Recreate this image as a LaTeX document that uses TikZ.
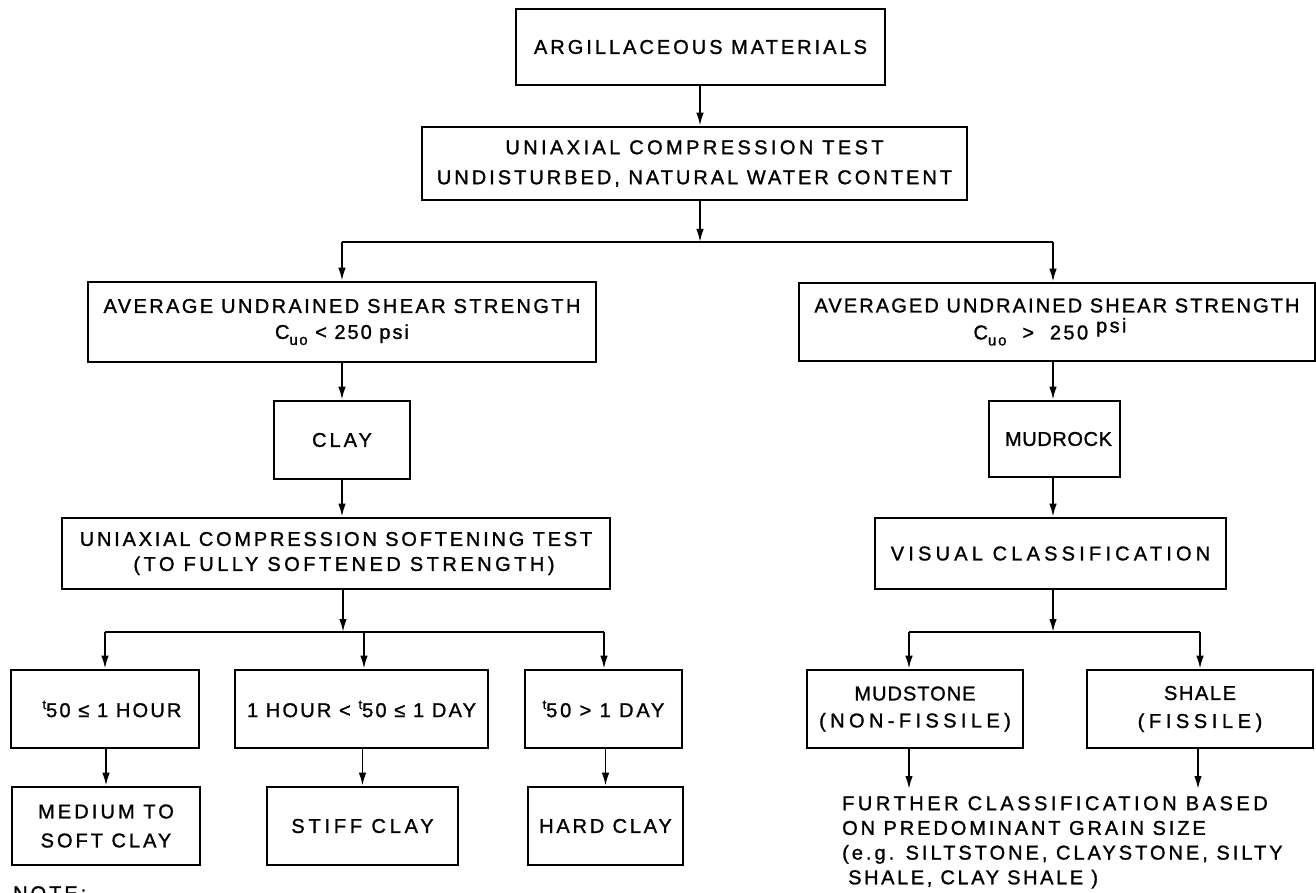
\documentclass[tikz,border=0pt]{standalone}
\usepackage{fontspec}
\setmainfont[FakeBold=1.2]{Liberation Sans}
\usetikzlibrary{arrows.meta}
\newcommand\lsp[1]{\addfontfeatures{LetterSpace=#1}}
\newcommand\subuo{\raisebox{-0.3em}{\fontsize{15}{15}\selectfont uo}}
\newcommand\supt{\raisebox{0.4em}{\fontsize{13}{13}\selectfont t}}
\begin{document}
\begin{tikzpicture}[x=1pt,y=-1pt,
  box/.style={draw, line width=2.6pt, inner sep=0pt, align=center, font=\fontsize{20}{27}\selectfont},
  conn/.style={line width=1.8pt, -{Latex[length=13pt,width=7.5pt]}},
  bus/.style={line width=1.8pt},
  txt/.style={inner sep=0pt, align=left, font=\fontsize{20}{24.7}\selectfont}]
\fill[white] (0,0) rectangle (1316,893);
\useasboundingbox (0,0) rectangle (1316,893);

% boxes
\node[box, minimum width=369pt, minimum height=76pt] (arg) at (700.5,47) {\lsp{15}ARGILLACEOUS MATERIALS};
\node[box, minimum width=545pt, minimum height=73pt, font=\fontsize{20}{30}\selectfont] (uct) at (694.5,163.5)
  {{\lsp{17}UNIAXIAL COMPRESSION TEST}\\{\lsp{15}UNDISTURBED, NATURAL WATER CONTENT}};
\node[box, minimum width=508pt, minimum height=80pt, font=\fontsize{20}{26}\selectfont] (avl) at (342,322)
  {{\lsp{12}AVERAGE UNDRAINED SHEAR STRENGTH}\\{\lsp{10}C\subuo{} < 250 psi}};
\node[box, minimum width=516pt, minimum height=78pt, font=\fontsize{20}{27}\selectfont] (avr) at (1057,322)
  {{\lsp{10.5}AVERAGED UNDRAINED SHEAR STRENGTH}\\{\lsp{12}C\subuo{} \ > \ 250 \raisebox{0.35em}{psi}\hspace*{14pt}}};
\node[box, minimum width=136pt, minimum height=78pt] (clay) at (342,440) {\lsp{15}CLAY};
\node[box, minimum width=131pt, minimum height=76pt] (mud) at (1054.5,439) {\lsp{3}\hspace*{8pt}MUDROCK};
\node[box, minimum width=548pt, minimum height=71pt, font=\fontsize{20}{25}\selectfont] (soft) at (336,553.5)
  {{\lsp{14}UNIAXIAL COMPRESSION SOFTENING TEST}\\{\lsp{17.5}\hspace*{16pt}(TO FULLY SOFTENED STRENGTH)}};
\node[box, minimum width=351pt, minimum height=71pt] (vis) at (1050.5,553.5) {\lsp{21}VISUAL CLASSIFICATION};
\node[box, minimum width=188pt, minimum height=78pt] (b1) at (105,709) {\lsp{11}\hspace*{14pt}\supt 50 ≤ 1 HOUR};
\node[box, minimum width=253pt, minimum height=78pt] (b2) at (361.5,709) {\lsp{11}1 HOUR < \supt 50 ≤ 1 DAY};
\node[box, minimum width=157pt, minimum height=78pt] (b3) at (603.5,709) {\lsp{14}\supt 50 > 1 DAY};
\node[box, minimum width=188pt, minimum height=78pt, font=\fontsize{20}{29}\selectfont] (c1) at (106,826)
  {{\lsp{15.5}MEDIUM TO}\\{\lsp{15}SOFT CLAY}};
\node[box, minimum width=191pt, minimum height=78pt] (c2) at (362.5,826) {\lsp{19}STIFF CLAY};
\node[box, minimum width=155pt, minimum height=78pt] (c3) at (605.5,826) {\lsp{14}HARD CLAY};
\node[box, minimum width=216pt, minimum height=78pt, font=\fontsize{20}{27}\selectfont] (mds) at (915,709)
  {{\lsp{5}MUDSTONE}\\{\lsp{22}(NON-FISSILE)}};
\node[box, minimum width=226pt, minimum height=78pt, font=\fontsize{20}{28}\selectfont] (shl) at (1200,709)
  {{\lsp{8}SHALE}\\{\lsp{23}(FISSILE)}};
\node[txt, anchor=north west] (fur) at (842,796)
  {{\lsp{17.7}FURTHER CLASSIFICATION BASED}\\{\lsp{14.6}ON PREDOMINANT GRAIN SIZE}\\{\lsp{15}(e.g. SILTSTONE, CLAYSTONE, SILTY}\\{\lsp{13}\hspace*{6pt}SHALE, CLAY SHALE )}};
\node[txt, anchor=north west] (note) at (13,886) {\lsp{15}NOTE:};

% connectors
\coordinate (j1) at (700,242);
\coordinate (l1) at (342,242);
\coordinate (r1) at (1053,242);
\draw[conn] (arg.south -| j1) -- (uct.north -| j1);
\draw[conn] (uct.south -| j1) -- (j1);
\draw[bus] (l1) -- (r1);
\draw[conn] (l1) -- (avl.north -| l1);
\draw[conn] (r1) -- (avr.north -| r1);
\draw[conn] (avl.south -| l1) -- (clay.north -| l1);
\draw[conn] (clay.south -| l1) -- (soft.north -| l1);

\coordinate (j2) at (343,632);
\coordinate (l2) at (105,632);
\coordinate (m2) at (364,632);
\coordinate (r2) at (604,632);
\draw[conn] (soft.south -| j2) -- (j2);
\draw[bus] (l2) -- (r2);
\draw[conn] (l2) -- (b1.north -| l2);
\draw[conn] (m2) -- (b2.north -| m2);
\draw[conn] (r2) -- (b3.north -| r2);
\draw[conn] (b1.south -| c1) -- (c1.north);
\draw[conn] (b2.south -| c2) -- (c2.north);
\draw[conn] (b3.south -| c3) -- (c3.north);

\draw[conn] (avr.south -| r1) -- (mud.north -| r1);
\draw[conn] (mud.south -| r1) -- (vis.north -| r1);
\coordinate (j3) at (1053,632);
\coordinate (l3) at (909,632);
\coordinate (r3) at (1200,632);
\draw[conn] (vis.south -| j3) -- (j3);
\draw[bus] (l3) -- (r3);
\draw[conn] (l3) -- (mds.north -| l3);
\draw[conn] (r3) -- (shl.north -| r3);
\coordinate (f1) at (909,789);
\coordinate (f2) at (1198,789);
\draw[conn] (mds.south -| f1) -- (f1);
\draw[conn] (shl.south -| f2) -- (f2);
\end{tikzpicture}
\end{document}
